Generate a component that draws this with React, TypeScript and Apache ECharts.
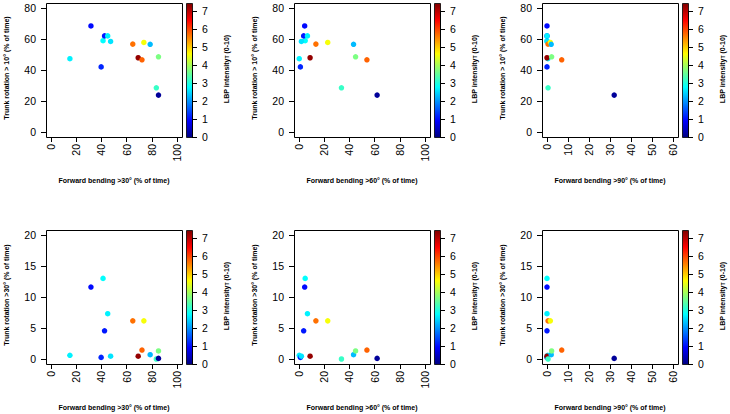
import React, { useEffect, useRef } from "react";
import * as echarts from "echarts";

// Subjects (same order in every array)
const fb30 = [15, 31.7, 39.8, 41.3, 42.5, 45, 47.3, 64.9, 69.2, 72.2, 73.7, 78.7, 85.3, 83.6, 85.3];
const fb60 = [0.2, 4.5, 1.1, 4.9, 3.7, 6.7, 1.9, 13.4, 8.8, 53.9, 22.8, 43.3, 44.9, 33.7, 62];
const fb90 = [0.4, 0, 0, 0, 0, 0, 0, 0.5, 0, 7, 1.6, 2, 2.2, 0.5, 32];
const tr10 = [47.3, 68.4, 42, 58.9, 62, 62, 58.4, 56.7, 47.9, 46.6, 57.8, 56.6, 48.5, 28.5, 23.8];
const tr30 = [0.6, 11.6, 0.26, 13, 4.55, 7.3, 0.45, 6.15, 0.45, 1.45, 6.15, 0.7, 1.3, 0, 0.1];
const lbp = [2.7, 1.0, 1.2, 2.8, 1.1, 2.7, 2.6, 5.7, 7.3, 5.8, 4.6, 2.3, 3.7, 3.2, 0.2];

const lbpMax = 7.45;
const lbpTickMax = 7;
const jetColors = ["#00007F", "#0000FF", "#007FFF", "#00FFFF", "#7FFF7F", "#FFFF00", "#FF7F00", "#FF0000", "#7F0000"];

const xSeries = [fb30, fb60, fb90];
const ySeries = [tr10, tr30];
const xTitles = [
  "Forward bending >30° (% of time)",
  "Forward bending >60° (% of time)",
  "Forward bending >90° (% of time)",
];
const yTitles = ["Trunk rotation > 10° (% of time)", "Trunk rotation >30° (% of time)"];
const xMaxes = [100, 100, 60];
const xIntervals = [20, 20, 10];
const yMaxes = [80, 20];
const yIntervals = [20, 5];
const cbTitle = "{a|LBP intensity}{b|T}{a| (0-10)}";

const FONT = "'Liberation Sans', Arial, Helvetica, sans-serif";

export default function App() {
  const ref = useRef<HTMLDivElement>(null);
  useEffect(() => {
    if (!ref.current) return;
    const chart = echarts.init(ref.current, undefined, { renderer: "svg" });

    const colLeft = [46, 294, 542];
    const rowTop = [3, 230];
    const W = 136;
    const H = 134;
    const pad = 5;
    const cbGap = 4;
    const cbW = 6;

    const grids: any[] = [];
    const xAxes: any[] = [];
    const yAxes: any[] = [];
    const series: any[] = [];
    const graphics: any[] = [];

    const axisCommon = {
      axisLine: { show: true, onZero: false, lineStyle: { color: "#000", width: 1 } },
      axisTick: { show: true, length: 5, inside: false, lineStyle: { color: "#000", width: 1 } },
      splitLine: { show: false },
    };

    const panels: { r: number; c: number }[] = [];
    for (let r = 0; r < 2; r++) for (let c = 0; c < 3; c++) panels.push({ r, c });

    // scatter grids
    panels.forEach(({ r, c }, i) => {
      const L = colLeft[c];
      const T = rowTop[r];
      grids.push({ left: L + pad, top: T + pad, width: W - 2 * pad, height: H - 2 * pad, containLabel: false });
      xAxes.push({
        gridIndex: i,
        type: "value",
        min: 0,
        max: xMaxes[c],
        interval: xIntervals[c],
        offset: pad,
        ...axisCommon,
        axisLabel: { rotate: 90, fontSize: 10.5, color: "#000", margin: 7, fontFamily: FONT },
      });
      yAxes.push({
        gridIndex: i,
        type: "value",
        min: 0,
        max: yMaxes[r],
        interval: yIntervals[r],
        offset: pad,
        ...axisCommon,
        axisLabel: { fontSize: 10.5, color: "#000", margin: 10, fontFamily: FONT },
      });
      const xs = xSeries[c];
      const ys = ySeries[r];
      series.push({
        type: "scatter",
        xAxisIndex: i,
        yAxisIndex: i,
        symbol: "circle",
        symbolSize: 5.5,
        data: xs.map((x, k) => [x, ys[k], lbp[k]]),
        itemStyle: { opacity: 1 },
      });
      graphics.push({
        type: "rect",
        shape: { x: L + 0.5, y: T + 0.5, width: W, height: H },
        style: { fill: "none", stroke: "#000", lineWidth: 1 },
        z: 10,
      });
      // axis titles
      graphics.push({
        type: "text",
        x: L + W / 2,
        y: T + H + 43,
        style: {
          text: xTitles[c],
          fontSize: 7,
          fontWeight: "bold",
          fontFamily: FONT,
          fill: "#000",
          align: "center",
          verticalAlign: "middle",
        },
      });
      graphics.push({
        type: "text",
        x: L - 40,
        y: T + 65,
        rotation: Math.PI / 2,
        style: {
          text: yTitles[r],
          fontSize: 7,
          fontWeight: "bold",
          fontFamily: FONT,
          fill: "#000",
          align: "center",
          verticalAlign: "middle",
        },
      });
    });

    // colour bars
    panels.forEach(({ r, c }, i) => {
      const L = colLeft[c];
      const T = rowTop[r];
      const cbL = L + W + cbGap;
      const cbH = (lbpTickMax / lbpMax) * H;
      const gi = 6 + i;
      grids.push({ left: cbL, top: T + H - cbH, width: cbW, height: cbH, containLabel: false });
      xAxes.push({ gridIndex: gi, type: "value", min: 0, max: 1, show: false });
      yAxes.push({
        gridIndex: gi,
        type: "value",
        position: "right",
        min: 0,
        max: lbpTickMax,
        interval: 1,
        ...axisCommon,
        axisLabel: { fontSize: 10.5, color: "#000", margin: 10, fontFamily: FONT },
      });
      graphics.push({
        type: "rect",
        shape: { x: cbL + 0.5, y: T + 0.5, width: cbW, height: H },
        style: {
          fill: new echarts.graphic.LinearGradient(
            0,
            1,
            0,
            0,
            jetColors.map((col, k) => ({ offset: k / (jetColors.length - 1), color: col }))
          ),
          stroke: "#000",
          lineWidth: 0.8,
        },
        z: -1,
      });
      graphics.push({
        type: "text",
        x: cbL + cbW + 34,
        y: T + 66,
        rotation: Math.PI / 2,
        style: {
          text: cbTitle,
          fontFamily: FONT,
          fill: "#000",
          align: "center",
          verticalAlign: "middle",
          rich: {
            a: { fontSize: 7, fontWeight: "bold", fontFamily: FONT, fill: "#000" },
            b: { fontSize: 5, fontWeight: "bold", fontFamily: FONT, fill: "#000", verticalAlign: "bottom" },
          },
        },
      });
    });

    chart.setOption({
      animation: false,
      backgroundColor: "#fff",
      grid: grids,
      xAxis: xAxes,
      yAxis: yAxes,
      visualMap: {
        type: "continuous",
        show: false,
        min: 0,
        max: lbpMax,
        dimension: 2,
        seriesIndex: [0, 1, 2, 3, 4, 5],
        inRange: { color: jetColors },
      },
      graphic: graphics,
      series,
    });
    return () => chart.dispose();
  }, []);
  return (
    <div
      ref={ref}
      style={{ position: "fixed", left: 0, top: 0, width: 730, height: 414, background: "#fff" }}
    />
  );
}
